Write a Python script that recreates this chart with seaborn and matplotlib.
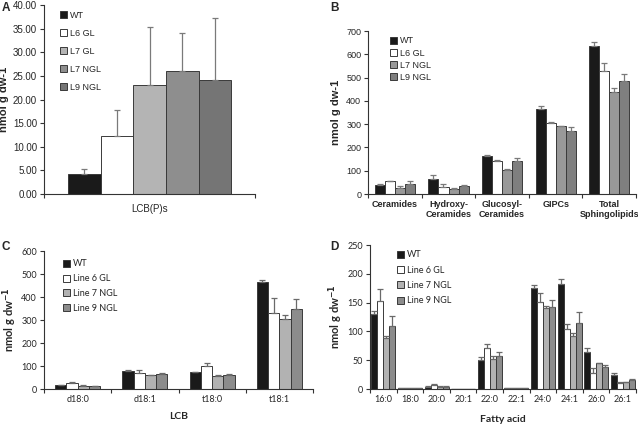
import matplotlib
matplotlib.use('Agg')
import matplotlib.pyplot as plt
import seaborn as sns
import pandas as pd
import numpy as np
from matplotlib.ticker import FixedLocator, FormatStrFormatter

sns.set_style('white')
plt.rcParams['font.family'] = ['Liberation Sans', 'DejaVu Sans']

# Panel A: total LCB(P)s
a_cats = ['LCB(P)s']
a_lines = ['WT', 'L6 GL', 'L7 GL', 'L7 NGL', 'L9 NGL']
a_vals = [[4.3], [12.3], [23.1], [26.0], [24.1]]
a_errs = [[1.1], [5.5], [12.2], [8.1], [13.1]]
a_colors = ['#1a1a1a', '#ffffff', '#b4b4b4', '#8e8e8e', '#757575']

# Panel B: sphingolipid classes
b_cats = ['Ceramides', 'Hydroxy-\nCeramides', 'Glucosyl-\nCeramides', 'GIPCs', 'Total\nSphingolipids']
b_lines = ['WT', 'L6 GL', 'L7 NGL', 'L9 NGL']
b_vals = [[40, 65, 163, 367, 635],
          [55, 30, 143, 305, 527],
          [25, 22, 103, 290, 438],
          [45, 35, 140, 272, 487]]
b_errs = [[2, 15, 5, 10, 20],
          [3, 12, 2, 4, 37],
          [8, 3, 3, 3, 17],
          [13, 3, 15, 17, 28]]
b_colors = ['#1a1a1a', '#ffffff', '#999999', '#7f7f7f']

# Panel C: LCB species
c_cats = ['d18:0', 'd18:1', 't18:0', 't18:1']
c_lines = ['WT', 'Line 6 GL', 'Line 7 NGL', 'Line 9 NGL']
c_vals = [[17, 78, 73, 465],
          [28, 70, 100, 332],
          [15, 60, 57, 305],
          [12, 65, 60, 350]]
c_errs = [[1, 4, 3, 8],
          [1, 12, 15, 65],
          [1, 3, 3, 17],
          [1, 3, 5, 42]]
c_colors = ['#1a1a1a', '#ffffff', '#b2b2b2', '#8c8c8c']

# Panel D: fatty acids
d_cats = ['16:0', '18:0', '20:0', '20:1', '22:0', '22:1', '24:0', '24:1', '26:0', '26:1']
d_lines = ['WT', 'Line 6 GL', 'Line 7 NGL', 'Line 9 NGL']
d_vals = [[130, 1, 4, 0.5, 51, 2, 175, 183, 65, 24],
          [152, 2, 7, 0.5, 71, 2, 151, 104, 28, 11],
          [89, 1, 4, 0.3, 52, 2, 141, 92, 45, 12],
          [110, 1, 4, 0.3, 57, 2, 143, 115, 38, 16]]
d_errs = [[6, 0.3, 1, 0.1, 4, 0.2, 5, 8, 7, 3],
          [21, 0.5, 1, 0.1, 7, 0.2, 15, 9, 8, 2],
          [3, 0.3, 0.5, 0.1, 5, 0.2, 3, 5, 1, 1],
          [17, 0.3, 0.5, 0.1, 7, 0.2, 12, 19, 3, 2]]
d_colors = ['#1a1a1a', '#ffffff', '#b2b2b2', '#8c8c8c']


def make_df(cats, lines, vals, errs):
    rows = []
    for i, ln in enumerate(lines):
        for j, c in enumerate(cats):
            rows.append({'cat': c, 'line': ln, 'val': vals[i][j], 'err': errs[i][j]})
    return pd.DataFrame(rows)


def draw(ax, cats, lines, vals, errs, colors, width, ylim, ystep, ecolor='#7a7a7a'):
    df = make_df(cats, lines, vals, errs)
    sns.barplot(data=df, x='cat', y='val', hue='line', order=cats, hue_order=lines,
                palette=colors, width=width, edgecolor='#3a3a3a', linewidth=0.7,
                errorbar=None, saturation=1, ax=ax)
    bars = list(ax.containers)
    for i, cont in enumerate(bars):
        xs = [p.get_x() + p.get_width() / 2 for p in cont.patches]
        hs = [p.get_height() for p in cont.patches]
        ax.errorbar(xs, hs, yerr=[np.zeros(len(hs)), errs[i]], fmt='none',
                    ecolor=ecolor, elinewidth=0.9, capsize=2.5, capthick=0.9, zorder=1)
    handles, labels = ax.get_legend_handles_labels()
    ax.get_legend().remove()
    for s in ['top', 'right']:
        ax.spines[s].set_visible(False)
    for s in ['left', 'bottom']:
        ax.spines[s].set_color('#333333')
        ax.spines[s].set_linewidth(0.8)
    ax.set_xlim(-0.5, len(cats) - 0.5)
    ax.set_ylim(0, ylim)
    ax.set_yticks(np.arange(0, ylim + ystep / 2, ystep))
    ax.xaxis.set_minor_locator(FixedLocator(np.arange(len(cats) + 1) - 0.5))
    ax.tick_params(axis='x', which='major', length=0, pad=4)
    ax.tick_params(axis='x', which='minor', length=3, width=0.8, color='#333333', bottom=True)
    ax.tick_params(axis='y', length=3, width=0.8, color='#333333', left=True, pad=2)
    ax.set_xlabel('')
    return handles, labels


def set_fonts(ax, font, fs, bold_x=False):
    for t in ax.get_xticklabels():
        t.set_fontfamily(font)
        t.set_fontsize(fs)
        if bold_x:
            t.set_fontweight('bold')
    for t in ax.get_yticklabels():
        t.set_fontfamily(font)
        t.set_fontsize(fs)


fig = plt.figure(figsize=(6.38, 4.25), dpi=100)

# A
axA = fig.add_axes([0.069, 0.5435, 0.331, 0.4445])
h, l = draw(axA, a_cats, a_lines, a_vals, a_errs, a_colors, 0.773, 40, 5)
axA.yaxis.set_major_formatter(FormatStrFormatter('%.2f'))
axA.tick_params(axis='x', which='major', pad=7)
set_fonts(axA, 'Liberation Sans', 7)
axA.set_ylabel('nmol g dw-1', fontsize=8, fontweight='bold', labelpad=3)
axA.legend(h, l, loc='upper left', bbox_to_anchor=(0.05, 1.0), frameon=False,
           fontsize=6.5, handlelength=0.8, handleheight=0.8, handletextpad=0.3,
           labelspacing=1.0, borderaxespad=0.2)
fig.text(2 / 638, 1 - 2 / 425, 'A', fontsize=8.5, fontweight='bold', va='top')

# B
axB = fig.add_axes([0.577, 0.5435, 0.42, 0.3835])
h, l = draw(axB, b_cats, b_lines, b_vals, b_errs, b_colors, 0.75, 700, 100)
set_fonts(axB, 'Liberation Sans', 6.5, bold_x=True)
axB.set_ylabel('nmol g dw-1', fontsize=8, fontweight='bold', labelpad=4)
axB.legend(h, l, loc='upper left', bbox_to_anchor=(0.06, 1.0), frameon=False,
           fontsize=6.5, handlelength=0.8, handleheight=0.8, handletextpad=0.3,
           labelspacing=0.35, borderaxespad=0.2)
fig.text(330 / 638, 1 - 2 / 425, 'B', fontsize=8.5, fontweight='bold', va='top')

# C
axC = fig.add_axes([0.069, 0.0847, 0.4216, 0.3243])
h, l = draw(axC, c_cats, c_lines, c_vals, c_errs, c_colors, 0.67, 600, 100, ecolor='#6a6a6a')
set_fonts(axC, 'Lato', 6.5)
axC.set_ylabel(r'nmol g dw$^{\mathbf{-1}}$', fontsize=8, fontweight='bold', fontfamily='Lato', labelpad=2)
axC.set_xlabel('LCB', fontsize=7.5, fontweight='bold', fontfamily='Lato', labelpad=6)
axC.legend(h, l, loc='upper left', bbox_to_anchor=(0.05, 0.98), frameon=False,
           prop={'family': 'Lato', 'size': 6.5}, handlelength=0.8, handleheight=0.8,
           handletextpad=0.3, labelspacing=0.65, borderaxespad=0.2)
fig.text(2 / 638, 1 - 241 / 425, 'C', fontsize=8.5, fontweight='bold', va='top')

# D
axD = fig.add_axes([0.58, 0.0847, 0.417, 0.3388])
h, l = draw(axD, d_cats, d_lines, d_vals, d_errs, d_colors, 0.9, 250, 50, ecolor='#6a6a6a')
set_fonts(axD, 'Lato', 6.5)
axD.set_ylabel(r'nmol g dw$^{\mathbf{-1}}$', fontsize=8, fontweight='bold', fontfamily='Lato', labelpad=2)
axD.set_xlabel('Fatty acid', fontsize=7.5, fontweight='bold', fontfamily='Lato', labelpad=8)
axD.legend(h, l, loc='upper left', bbox_to_anchor=(0.08, 1.0), frameon=False,
           prop={'family': 'Lato', 'size': 6.5}, handlelength=0.8, handleheight=0.8,
           handletextpad=0.3, labelspacing=0.7, borderaxespad=0.2)
fig.text(330 / 638, 1 - 241 / 425, 'D', fontsize=8.5, fontweight='bold', va='top')

fig.savefig('out.png', dpi=100)
